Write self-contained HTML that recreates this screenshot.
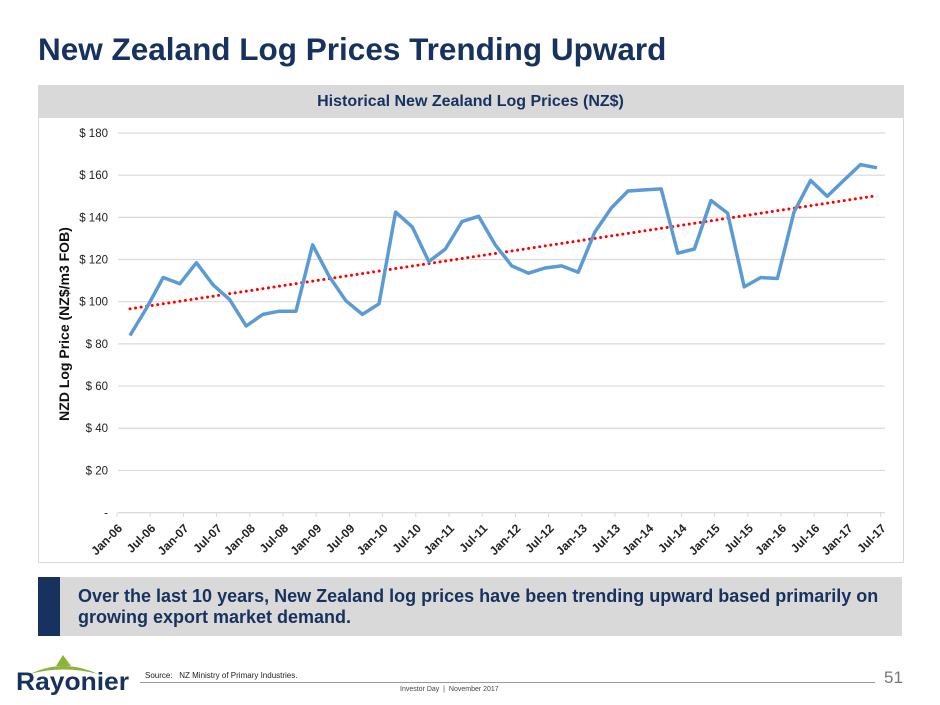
<!DOCTYPE html>
<html><head><meta charset="utf-8"><style>
body{margin:0;width:940px;height:705px;background:#fff;font-family:"Liberation Sans",sans-serif;position:relative;overflow:hidden}
.abs{position:absolute}
</style></head><body>
<div class="abs" style="left:38px;top:31px;font-size:31.5px;font-weight:bold;color:#17325e">New Zealand Log Prices Trending Upward</div>
<div class="abs" style="left:38px;top:85px;width:864px;height:477px;border:1px solid #d9d9d9;border-top:none"></div>
<div class="abs" style="left:38px;top:85px;width:865px;height:33px;background:#d9d9d9;text-align:center;line-height:33px;font-size:16px;font-weight:bold;color:#17325e">Historical New Zealand Log Prices (NZ$)</div>
<svg class="abs" style="left:0;top:0" width="940" height="705">
<g id="grid"></g><g id="xl"></g>
<text transform="translate(69,324) rotate(-90)" text-anchor="middle" font-size="14" font-weight="bold" fill="#111">NZD Log Price (NZ$/m3 FOB)</text>
<path id="trend" fill="none" stroke="#ff0000" stroke-width="3" stroke-dasharray="0.1 5.5" stroke-linecap="round"/>
<path id="line" fill="none" stroke="#5b9bd5" stroke-width="3.5" stroke-linejoin="round"/>
</svg>
<div class="abs" style="left:38px;top:577px;width:22px;height:59px;background:#17325e"></div>
<div class="abs" style="left:60px;top:577px;width:842px;height:59px;background:#d9d9d9"></div>
<div class="abs" style="left:78px;top:586px;width:822px;font-size:18px;font-weight:bold;color:#17325e;line-height:21px">Over the last 10 years, New Zealand log prices have been trending upward based primarily on growing export market demand.</div>
<svg class="abs" style="left:8px;top:652px" width="130" height="45">
<path d="M48 14 L55 3 L63 14 Z" fill="#8db33a"/><path d="M22 22 Q55 6 90 22 Q55 13 22 22Z" fill="#8db33a"/>
<text x="8" y="38" font-size="25" font-weight="bold" fill="#17325e" font-family="Liberation Sans" textLength="113" lengthAdjust="spacingAndGlyphs">Rayonier</text></svg>
<div class="abs" style="left:145px;top:671px;font-size:8px;color:#222">Source:&nbsp;&nbsp;&nbsp;NZ Ministry of Primary Industries.</div>
<div class="abs" style="left:140px;top:682px;width:735px;height:1px;background:#999"></div>
<div class="abs" style="left:884px;top:668px;font-size:17px;color:#777">51</div>
<div class="abs" style="left:400px;top:686px;font-size:7px;color:#444">Investor Day &nbsp;|&nbsp; November 2017</div>
<script>
const yTicks=[0,20,40,60,80,100,120,140,160,180];
const yTickLabels=["-","$ 20","$ 40","$ 60","$ 80","$ 100","$ 120","$ 140","$ 160","$ 180"];
const xLabels=["Jan-06","Jul-06","Jan-07","Jul-07","Jan-08","Jul-08","Jan-09","Jul-09","Jan-10","Jul-10","Jan-11","Jul-11","Jan-12","Jul-12","Jan-13","Jul-13","Jan-14","Jul-14","Jan-15","Jul-15","Jan-16","Jul-16","Jan-17","Jul-17"];
const prices=[84,97,111.5,108.5,118.5,108,101,88.5,94,95.5,95.5,127,112,100.5,94,99,142.5,135.5,119,125,138,140.5,127,117,113.5,116,117,114,133,144.5,152.5,153,153.5,123,125,148,142,107,111.5,111,142.5,157.5,150,157.5,165,163.5];
const NS="http://www.w3.org/2000/svg";
const x0=130,x1=877,step=(x1-x0)/(prices.length-1);
const X=i=>x0+i*step, Y=v=>512.6-v*(379.6/180);
const grid=document.getElementById('grid');
yTicks.forEach((t,k)=>{
 const l=document.createElementNS(NS,'line');
 
 
 l.setAttribute('x1',118);l.setAttribute('x2',885);l.setAttribute('y1',Y(t));l.setAttribute('y2',Y(t));
 l.setAttribute('stroke','#d9d9d9');l.setAttribute('stroke-width','1.2');grid.appendChild(l);
 const tx=document.createElementNS(NS,'text');
 
 
 tx.setAttribute('x',108);tx.setAttribute('y',Y(t)+4);tx.setAttribute('text-anchor','end');tx.setAttribute('font-size','11.5');tx.setAttribute('fill','#222');
 tx.textContent=yTickLabels[k];grid.appendChild(tx);
});
const xl=document.getElementById('xl');
xLabels.forEach((s,k)=>{
 const tk=document.createElementNS(NS,'line');
 
 
 const bx=X(k*2)-13;
 tk.setAttribute('x1',bx);tk.setAttribute('x2',bx);tk.setAttribute('y1',512.6);tk.setAttribute('y2',517);
 tk.setAttribute('stroke','#d9d9d9');xl.appendChild(tk);
 const tx=document.createElementNS(NS,'text');
 
 
 const px=X(k*2)-7,py=529;
 tx.setAttribute('transform',`translate(${px},${py}) rotate(-45)`);
 tx.setAttribute('text-anchor','end');tx.setAttribute('font-size','12');tx.setAttribute('font-weight','bold');tx.setAttribute('fill','#222');
 tx.textContent=s;xl.appendChild(tx);
});
document.getElementById('line').setAttribute('d',prices.map((v,i)=>(i?'L':'M')+X(i).toFixed(1)+' '+Y(v).toFixed(1)).join(' '));
const n=prices.length;let sx=0,sy=0,sxx=0,sxy=0;
prices.forEach((v,i)=>{sx+=i;sy+=v;sxx+=i*i;sxy+=i*v});
const b=(n*sxy-sx*sy)/(n*sxx-sx*sx),a=(sy-b*sx)/n;
document.getElementById('trend').setAttribute('d',`M${X(0)} ${Y(a)} L${X(n-1)} ${Y(a+b*(n-1))}`);
</script>
</body></html>
